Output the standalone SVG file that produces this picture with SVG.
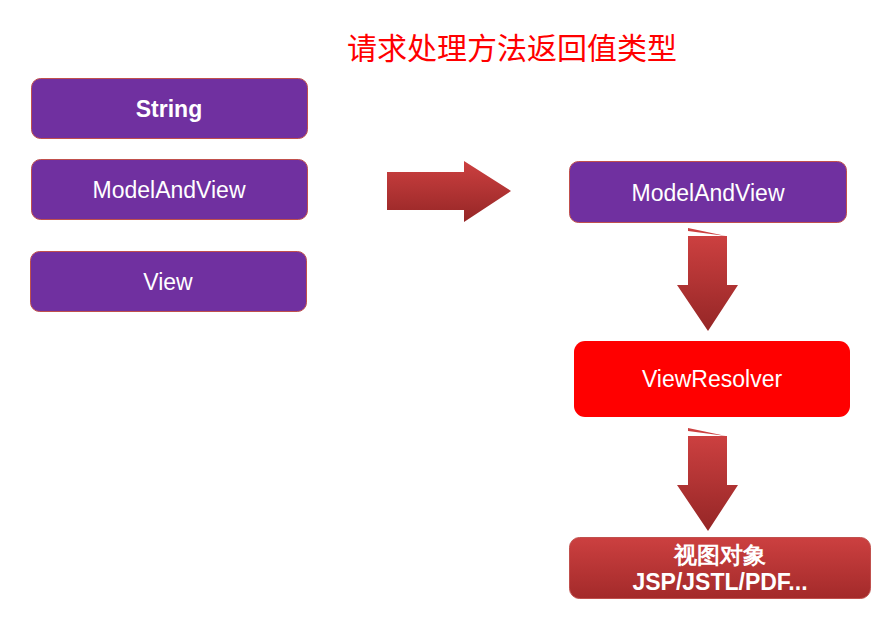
<svg xmlns="http://www.w3.org/2000/svg" width="883" height="618" viewBox="0 0 883 618">
<defs>
<linearGradient id="ag" x1="0" y1="0" x2="0" y2="1">
<stop offset="0" stop-color="#CC4040"/>
<stop offset="1" stop-color="#952626"/>
</linearGradient>
<linearGradient id="bg" x1="0" y1="0" x2="0" y2="1">
<stop offset="0" stop-color="#CC4040"/>
<stop offset="1" stop-color="#A32A2A"/>
</linearGradient>
</defs>
<style>
.p{fill:#7030A0;stroke:#C0504D;stroke-width:1}
.t{font-family:"Liberation Sans",Arial,sans-serif;fill:#fff;font-size:23px;text-anchor:middle}
.b{font-weight:bold}
</style>
<rect width="883" height="618" fill="#fff"/>
<text x="512" y="59" font-family="'Noto Sans CJK SC',sans-serif" font-size="30" fill="#FF0000" text-anchor="middle">请求处理方法返回值类型</text>
<g id="string"><rect class="p" x="31.5" y="78.5" width="276" height="60" rx="9"/><text class="t b" x="169" y="117">String</text></g>
<g id="mav-left"><rect class="p" x="31.5" y="159.5" width="276" height="60" rx="9"/><text class="t" x="169" y="198">ModelAndView</text></g>
<g id="view"><rect class="p" x="30.5" y="251.5" width="276" height="60" rx="9"/><text class="t" x="168" y="290">View</text></g>
<g id="mav-right"><rect class="p" x="569.5" y="161.5" width="277" height="61" rx="9"/><text class="t" x="708" y="201">ModelAndView</text></g>
<g id="viewresolver"><rect x="574" y="341" width="276" height="76" rx="11" fill="#FF0000"/><text class="t" x="712" y="387">ViewResolver</text></g>
<g id="viewobj"><rect x="569.5" y="537.5" width="301" height="61" rx="10" fill="url(#bg)" stroke="#C0504D"/>
<text class="t" x="720" y="563" font-family="'Noto Sans CJK SC',sans-serif" font-size="21" font-weight="bold">视图对象</text>
<text class="t b" x="720" y="590" font-size="23">JSP/JSTL/PDF...</text></g>
<g id="connectors">
<polygon points="387,172 464,172 464,161 511,191 464,222 464,210 387,210" fill="url(#ag)"/>
<polygon points="688,236 727,236 727,285 738,285 708,331 677,285 688,285" fill="url(#ag)"/>
<polygon points="688,228 726,236 688,231" fill="#CC4040"/>
<polygon points="688,436 727,436 727,485 738,485 708,531 677,485 688,485" fill="url(#ag)"/>
<polygon points="688,428 726,436 688,431" fill="#CC4040"/>
</g>
</svg>
